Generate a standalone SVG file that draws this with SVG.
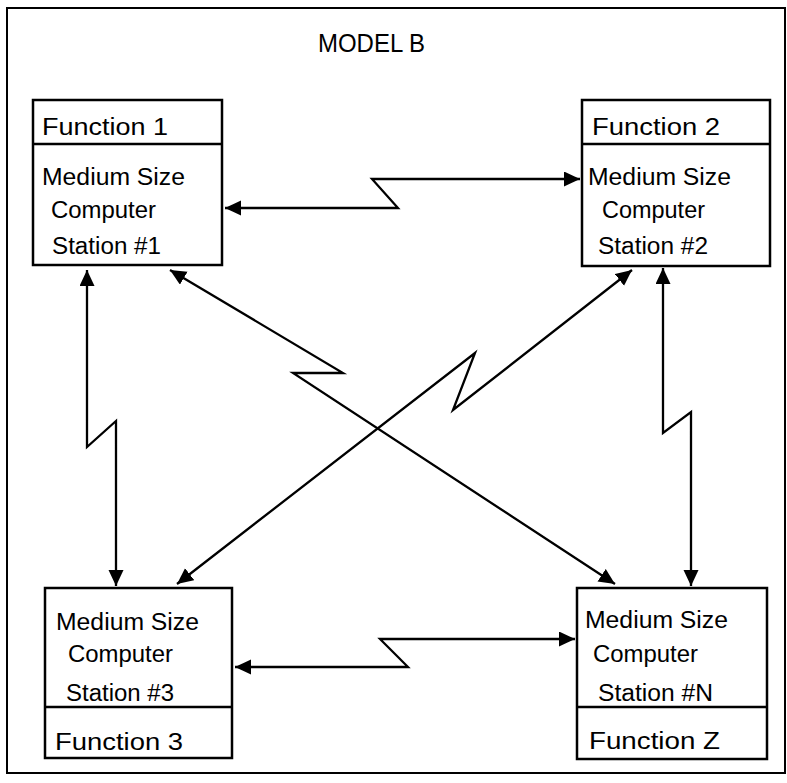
<svg xmlns="http://www.w3.org/2000/svg" width="787" height="783" viewBox="0 0 787 783">
<defs>
<marker id="ah" markerUnits="userSpaceOnUse" markerWidth="18" markerHeight="16" refX="16" refY="7.5" orient="auto-start-reverse">
<path d="M0,0 L16,7.5 L0,15 z" fill="#000"/>
</marker>
<style>
.box{fill:#fff;stroke:#000;stroke-width:2.5}
.div{stroke:#000;stroke-width:2.5}
.t{font-family:"Liberation Sans",Arial,sans-serif;font-size:23px;fill:#000}
.c{fill:none;stroke:#000;stroke-width:2.3;stroke-linejoin:miter;marker-start:url(#ah);marker-end:url(#ah)}
</style>
</defs>
<rect x="0" y="0" width="787" height="783" fill="#fff"/>
<rect x="7" y="8" width="778" height="765" fill="none" stroke="#000" stroke-width="2"/>
<text class="t" x="318" y="52" textLength="107" lengthAdjust="spacingAndGlyphs" style="font-size:25px">MODEL B</text>
<g id="connectors">
<polyline class="c" points="225,208 398,208 372,179 580,179"/>
<polyline class="c" points="235,667 408,667 380,639 575,639"/>
<polyline class="c" points="87,270 87,447 116,421 116,586"/>
<polyline class="c" points="663,268 663,433 691,412 691,586"/>
<polyline class="c" points="170,270 343,373 293,373 615,584"/>
<polyline class="c" points="632,270 453,410 475,353 177,584"/>
</g>
<g id="station1">
<rect class="box" x="33" y="100" width="189" height="165"/>
<line class="div" x1="33" y1="144" x2="222" y2="144"/>
<text class="t" x="42" y="135" textLength="126" lengthAdjust="spacingAndGlyphs">Function 1</text>
<text class="t" x="42" y="185" textLength="143" lengthAdjust="spacingAndGlyphs">Medium Size</text>
<text class="t" x="51" y="218" textLength="105" lengthAdjust="spacingAndGlyphs">Computer</text>
<text class="t" x="52" y="254" textLength="109" lengthAdjust="spacingAndGlyphs">Station #1</text>
</g>
<g id="station2">
<rect class="box" x="582" y="100" width="188" height="166"/>
<line class="div" x1="582" y1="144" x2="770" y2="144"/>
<text class="t" x="592" y="135" textLength="128" lengthAdjust="spacingAndGlyphs">Function 2</text>
<text class="t" x="588" y="185" textLength="143" lengthAdjust="spacingAndGlyphs">Medium Size</text>
<text class="t" x="602" y="218" textLength="103" lengthAdjust="spacingAndGlyphs">Computer</text>
<text class="t" x="598" y="254" textLength="110" lengthAdjust="spacingAndGlyphs">Station #2</text>
</g>
<g id="station3">
<rect class="box" x="45" y="588" width="187" height="170"/>
<line class="div" x1="45" y1="707" x2="232" y2="707"/>
<text class="t" x="56" y="630" textLength="143" lengthAdjust="spacingAndGlyphs">Medium Size</text>
<text class="t" x="68" y="662" textLength="105" lengthAdjust="spacingAndGlyphs">Computer</text>
<text class="t" x="66" y="701" textLength="108" lengthAdjust="spacingAndGlyphs">Station #3</text>
<text class="t" x="55" y="750" textLength="128" lengthAdjust="spacingAndGlyphs">Function 3</text>
</g>
<g id="stationN">
<rect class="box" x="577" y="588" width="190" height="171"/>
<line class="div" x1="577" y1="707" x2="767" y2="707"/>
<text class="t" x="585" y="628" textLength="143" lengthAdjust="spacingAndGlyphs">Medium Size</text>
<text class="t" x="593" y="662" textLength="105" lengthAdjust="spacingAndGlyphs">Computer</text>
<text class="t" x="598" y="701" textLength="115" lengthAdjust="spacingAndGlyphs">Station #N</text>
<text class="t" x="589" y="749" textLength="131" lengthAdjust="spacingAndGlyphs">Function Z</text>
</g>
</svg>
